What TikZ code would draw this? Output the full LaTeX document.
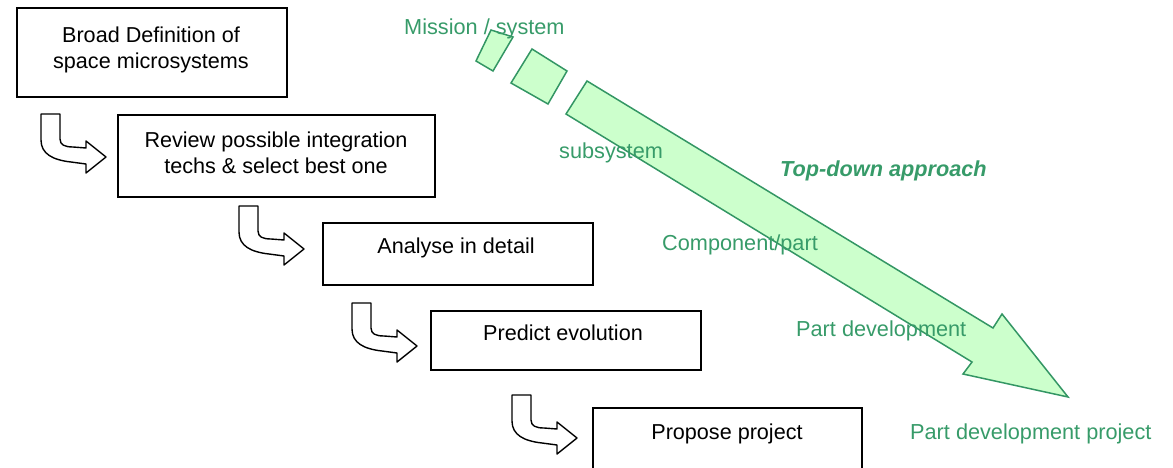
\documentclass[tikz,border=0pt]{standalone}
\usepackage{fontspec}
\setmainfont{Liberation Sans}
\definecolor{gstroke}{RGB}{51,150,100}
\definecolor{gfill}{RGB}{204,255,204}
\definecolor{gtext}{RGB}{55,155,105}
\tikzset{
  box/.style={draw=black, line width=1.4pt, rectangle, inner sep=0pt},
  boxtext/.style={inner sep=0pt, anchor=base, align=center, font=\fontsize{21.6}{25.8}\selectfont},
  greentext/.style={inner sep=0pt, anchor=base west, text=gtext, font=\fontsize{21.7}{25.8}\selectfont},
  bigarrow/.style={draw=gstroke, fill=gfill, line width=1.5pt, line join=miter},
  benta/.style={draw=black, fill=white, line width=1.4pt, line join=round},
  bentarrow/.pic={
    \draw[benta] (0,0) -- (19,0) -- (19,25) .. controls (19,31) and (24,33) .. (32,33)
      -- (45,34) -- (45,27) -- (65,43) -- (45,59) -- (45,50) -- (30,48)
      .. controls (12,46) and (0,40) .. (0,26) -- cycle;
  }
}
\begin{document}
\begin{tikzpicture}[x=1pt,y=-1pt]
\useasboundingbox (0,0) rectangle (1173,468);
% big top-down arrow
\draw[bigarrow] (491,30) -- (513,37) -- (493,71) -- (476,61) -- cycle;
\draw[bigarrow] (532,49) -- (567,71) -- (548,104) -- (511,83) -- cycle;
\draw[bigarrow] (587,81) -- (993,328) -- (1002,314) -- (1068,397) -- (963,374) -- (972,362) -- (566,114) -- cycle;
% boxes
\node[box, minimum width=270pt, minimum height=89pt] (b1) at (152,52.5) {};
\node[box, minimum width=317pt, minimum height=82pt] (b2) at (276.5,156) {};
\node[box, minimum width=270pt, minimum height=62pt] (b3) at (458,254) {};
\node[box, minimum width=270pt, minimum height=59pt] (b4) at (566,340.5) {};
\node[box, minimum width=269pt, minimum height=64pt] (b5) at (727.5,440) {};
% box texts
\node[boxtext] (t1) at (151,68.3) {Broad Definition of\\space microsystems};
\node[boxtext] (t2) at (276,173.3) {Review possible integration\\techs \& select best one};
\node[boxtext] (t3) at (456,253.3) {Analyse in detail};
\node[boxtext] (t4) at (563,340.7) {Predict evolution};
\node[boxtext] (t5) at (727,439.3) {Propose project};
% bent arrows
\pic at (41,114) {bentarrow};
\pic at (239,206) {bentarrow};
\begin{scope}[shift={(352,303)}, yscale=1.12]
\pic at (0,0) {bentarrow};
\end{scope}
\pic at (512,395) {bentarrow};
% green labels
\node[greentext] (l1) at (404,35) {Mission / system};
\node[greentext] (l2) at (559,158.3) {subsystem};
\node[greentext, font=\fontsize{21.7}{25.8}\selectfont\bfseries\itshape] (l3) at (780,176.7) {Top-down approach};
\node[greentext] (l4) at (662,250) {Component/part};
\node[greentext] (l5) at (796,336.7) {Part development};
\node[greentext] (l6) at (910,439.5) {Part development project};
\end{tikzpicture}
\end{document}
